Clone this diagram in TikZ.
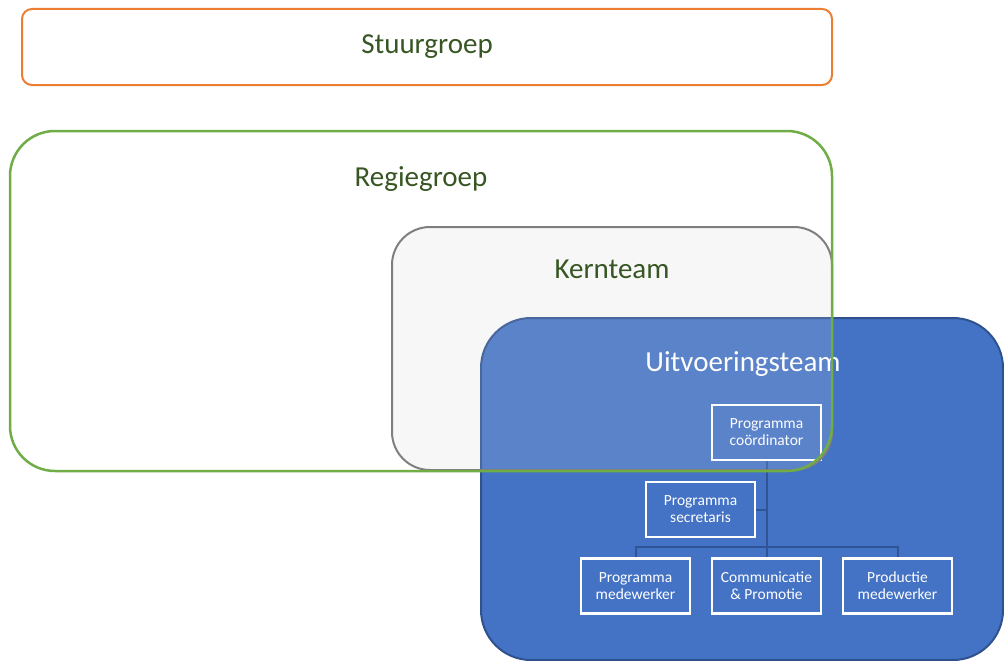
\documentclass[tikz,border=0pt]{standalone}
\usepackage{fontspec}
\setmainfont{Carlito}
\definecolor{txtgreen}{HTML}{375623}
\definecolor{orangeb}{HTML}{ED7D31}
\definecolor{greenb}{HTML}{70AD47}
\definecolor{grayb}{HTML}{7F7F7F}
\definecolor{grayfill}{HTML}{F7F7F7}
\definecolor{bluefill}{HTML}{4472C4}
\definecolor{blueborder}{HTML}{2F528F}
\definecolor{linkblue}{HTML}{2F5597}
\begin{document}
\begin{tikzpicture}[x=1pt,y=-1pt,
  frame/.style={rectangle, inner sep=0pt, outer sep=0pt},
  biglabel/.style={inner sep=0pt, font=\fontsize{29}{35}\selectfont},
  orgbox/.style={rectangle, draw=white, line width=2.5pt, minimum width=109pt, minimum height=55pt,
    align=center, text=white, inner sep=0pt, font=\fontsize{15.5}{17}\selectfont},
  link/.style={draw=linkblue, line width=2pt}]
\useasboundingbox (0,0) rectangle (1004,661);

% Stuurgroep
\node[frame, draw=orangeb, line width=2pt, rounded corners=10pt,
  minimum width=810pt, minimum height=76pt, text=txtgreen,
  font=\fontsize{29}{35}\selectfont] (stuur) at (427,47) {Stuurgroep};

% Kernteam (opaque fill)
\node[frame, fill=grayfill, rounded corners=38pt,
  minimum width=440pt, minimum height=243pt] (kern) at (612,348.5) {};

% Uitvoeringsteam
\node[frame, draw=blueborder, fill=bluefill,
  line width=2pt, rounded corners=50pt,
  minimum width=522pt, minimum height=342pt] (uitv) at (742,489) {};
\node[biglabel, text=white] (uitvlabel) at (743,364) {Uitvoeringsteam};

% org chart
\node[orgbox] (coord) at (766.5,432.5) {Programma\\coördinator};
\node[orgbox] (sec) at (700.5,509.5) {Programma\\secretaris};
\node[orgbox] (pm) at (635.5,586) {Programma\\medewerker};
\node[orgbox] (comm) at (766.5,586) {Communicatie\\\& Promotie};
\node[orgbox] (prod) at (897.5,586) {Productie\\medewerker};

\draw[link] (coord.south) -- (comm.north);
\draw[link] (sec.east) -- (coord.south |- sec.east);
\draw[link] (pm.north) -- ++(0,-10) -| (prod.north);

% Kernteam translucent veil and border on top
\fill[grayfill, fill opacity=0.13, rounded corners=38pt]
  (kern.south west) rectangle (kern.north east);
\draw[grayb, line width=2pt, rounded corners=38pt]
  (kern.south west) rectangle (kern.north east);
\node[biglabel, text=txtgreen] (kernlabel) at (612,269) {Kernteam};

% Regiegroep on top
\node[frame, draw=greenb, line width=2.5pt, rounded corners=45pt,
  minimum width=822pt, minimum height=340pt] (regie) at (421,301) {};
\node[biglabel, text=txtgreen] (regielabel) at (421,179) {Regiegroep};
\end{tikzpicture}
\end{document}
